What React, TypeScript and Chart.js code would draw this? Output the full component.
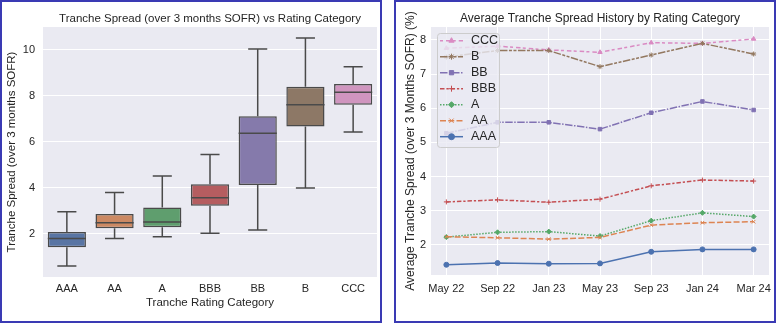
import React, { useEffect, useRef } from "react";
import { Chart, registerables } from "chart.js";
import { drawPoint } from "chart.js/helpers";

Chart.register(...registerables);

const FONT = "'Liberation Sans', Arial, Helvetica, sans-serif";
const TEXT = "#262626";
const PLOT_BG = "#EAEAF2";
const PANEL_BORDER = "#3a3ab4";
const BOX_LINE = "#4a4a4a";

// ---------- Box plot data ----------
const ratingCategories = ["AAA", "AA", "A", "BBB", "BB", "B", "CCC"];
const whiskerLow = [0.61, 1.8, 1.88, 2.03, 2.17, 4.0, 6.43];
const quartile1 = [1.42, 2.25, 2.29, 3.23, 4.13, 6.67, 7.62];
const medians = [1.8, 2.49, 2.52, 3.58, 6.38, 7.62, 8.16];
const quartile3 = [2.09, 2.87, 3.15, 4.16, 7.12, 8.4, 8.52];
const whiskerHigh = [2.97, 3.8, 4.52, 5.46, 10.04, 10.52, 9.27];
const boxColors = ["#5975a4", "#cc8963", "#5f9e6e", "#b55d60", "#857aab", "#8d7866", "#d095bf"];

// ---------- Line chart data ----------
const periods = ["May 22", "Sep 22", "Jan 23", "May 23", "Sep 23", "Jan 24", "Mar 24"];
const seriesAAA = [1.42, 1.47, 1.45, 1.46, 1.8, 1.87, 1.87];
const seriesAA = [2.24, 2.21, 2.17, 2.22, 2.58, 2.65, 2.68];
const seriesA = [2.23, 2.37, 2.39, 2.26, 2.71, 2.94, 2.83];
const seriesBBB = [3.26, 3.32, 3.25, 3.34, 3.73, 3.9, 3.87];
const seriesBB = [5.27, 5.59, 5.59, 5.39, 5.87, 6.2, 5.95];
const seriesB = [7.5, 7.69, 7.69, 7.22, 7.56, 7.9, 7.59];
const seriesCCC = [7.76, 7.82, 7.71, 7.64, 7.92, 7.9, 8.03];

const lineLabels = ["AAA", "AA", "A", "BBB", "BB", "B", "CCC"];
const lineSeries = [seriesAAA, seriesAA, seriesA, seriesBBB, seriesBB, seriesB, seriesCCC];
const lineColors = ["#4c72b0", "#dd8452", "#55a868", "#c44e52", "#8172b3", "#937860", "#da8bc3"];
const lineDashes = [
  [],
  [6, 2.25],
  [1.5, 1.5],
  [4.5, 1.9, 2.25, 1.9],
  [7.5, 1.5, 1.5, 1.5],
  [7.5, 1.5, 3, 1.5, 3, 1.5],
  [3, 3, 4.5, 2.25],
];
const lineMarkers = ["circle", "crossRot", "rectRot", "cross", "rect", "star", "triangle"];

const bgPlugin = {
  id: "plotBg",
  beforeDraw(chart: any) {
    const { ctx, chartArea } = chart;
    ctx.save();
    ctx.fillStyle = PLOT_BG;
    ctx.fillRect(chartArea.left, chartArea.top, chartArea.right - chartArea.left, chartArea.bottom - chartArea.top);
    ctx.restore();
  },
};

function makeTitlePlugin(text: string, size: number) {
  return {
    id: "plotTitle",
    afterDraw(chart: any) {
      const { ctx, chartArea } = chart;
      ctx.save();
      ctx.fillStyle = TEXT;
      ctx.font = `${size}px ${FONT}`;
      ctx.textAlign = "center";
      ctx.textBaseline = "middle";
      ctx.fillText(text, (chartArea.left + chartArea.right) / 2, chartArea.top - 8);
      ctx.restore();
    },
  };
}

const whiskerPlugin = {
  id: "whiskers",
  afterDatasetsDraw(chart: any) {
    const { ctx } = chart;
    const meta = chart.getDatasetMeta(0);
    const yScale = chart.scales.y;
    ctx.save();
    ctx.strokeStyle = BOX_LINE;
    ctx.lineWidth = 1.5;
    meta.data.forEach((bar: any, i: number) => {
      const x = bar.x;
      const w = bar.width;
      const yLow = yScale.getPixelForValue(whiskerLow[i]);
      const yQ1 = yScale.getPixelForValue(quartile1[i]);
      const yQ3 = yScale.getPixelForValue(quartile3[i]);
      const yHigh = yScale.getPixelForValue(whiskerHigh[i]);
      const yMed = yScale.getPixelForValue(medians[i]);
      ctx.beginPath();
      ctx.moveTo(x, yQ3);
      ctx.lineTo(x, yHigh);
      ctx.moveTo(x - w / 4, yHigh);
      ctx.lineTo(x + w / 4, yHigh);
      ctx.moveTo(x, yQ1);
      ctx.lineTo(x, yLow);
      ctx.moveTo(x - w / 4, yLow);
      ctx.lineTo(x + w / 4, yLow);
      ctx.moveTo(x - w / 2, yMed);
      ctx.lineTo(x + w / 2, yMed);
      ctx.stroke();
    });
    ctx.restore();
  },
};

const legendPlugin = {
  id: "insideLegend",
  afterDraw(chart: any) {
    const { ctx, chartArea } = chart;
    const x0 = chartArea.left + 6;
    const y0 = chartArea.top + 6;
    const w = 62;
    const h = 114;
    ctx.save();
    ctx.beginPath();
    if ((ctx as any).roundRect) (ctx as any).roundRect(x0 + 0.5, y0 + 0.5, w, h, 3);
    else ctx.rect(x0 + 0.5, y0 + 0.5, w, h);
    ctx.fillStyle = "rgba(234,234,242,0.8)";
    ctx.fill();
    ctx.strokeStyle = "#cccccc";
    ctx.lineWidth = 1;
    ctx.stroke();
    const ds = chart.data.datasets.slice().reverse();
    ds.forEach((d: any, k: number) => {
      const cy = y0 + 7.7 + k * 16;
      ctx.beginPath();
      ctx.setLineDash(d.borderDash || []);
      ctx.strokeStyle = d.borderColor;
      ctx.lineWidth = 1.5;
      ctx.moveTo(x0 + 3, cy);
      ctx.lineTo(x0 + 26, cy);
      ctx.stroke();
      ctx.setLineDash([]);
      ctx.fillStyle = d.borderColor;
      ctx.strokeStyle = d.borderColor;
      ctx.lineWidth = 1;
      drawPoint(ctx, { pointStyle: d.pointStyle, rotation: 0, radius: 3, borderWidth: 1 } as any, x0 + 14.5, cy);
      ctx.fillStyle = TEXT;
      ctx.font = `12.5px ${FONT}`;
      ctx.textAlign = "left";
      ctx.textBaseline = "middle";
      ctx.fillText(d.label, x0 + 34, cy);
    });
    ctx.restore();
  },
};

function BoxChart() {
  const ref = useRef<HTMLCanvasElement | null>(null);
  useEffect(() => {
    if (!ref.current) return;
    const chart = new Chart(ref.current, {
      type: "bar",
      data: {
        labels: ratingCategories,
        datasets: [
          {
            data: quartile1.map((v, i) => [v, quartile3[i]]) as any,
            backgroundColor: boxColors,
            borderColor: BOX_LINE,
            borderWidth: 1.5,
            borderSkipped: false,
            barPercentage: 0.8,
            categoryPercentage: 1,
          },
        ],
      },
      options: {
        responsive: false,
        animation: false,
        layout: { padding: { top: 25, right: 3, bottom: 0, left: 0 } },
        plugins: { legend: { display: false }, tooltip: { enabled: false }, title: { display: false } },
        scales: {
          x: {
            type: "category",
            offset: true,
            grid: { display: false, drawTicks: false },
            border: { display: false },
            ticks: { color: TEXT, font: { family: FONT, size: 11 }, padding: 5, maxRotation: 0 },
            title: {
              display: true,
              text: "Tranche Rating Category",
              color: TEXT,
              font: { family: FONT, size: 11.5 },
              padding: { top: 0, bottom: 11 },
            },
            afterFit(scale: any) {
              scale.height = 44;
              scale.paddingLeft = 0;
              scale.paddingRight = 0;
            },
          },
          y: {
            type: "linear",
            min: 0.13,
            max: 11.0,
            grid: { color: "#ffffff", lineWidth: 1, drawTicks: false },
            border: { display: false },
            ticks: {
              stepSize: 2,
              includeBounds: false,
              color: TEXT,
              font: { family: FONT, size: 11 },
              padding: 8,
            },
            title: {
              display: true,
              text: "Tranche Spread (over 3 months SOFR)",
              color: TEXT,
              font: { family: FONT, size: 11.5 },
              padding: { top: 3, bottom: 0 },
            },
            afterFit(scale: any) {
              scale.width = 41;
              scale.paddingTop = 0;
              scale.paddingBottom = 0;
            },
          },
        },
      },
      plugins: [bgPlugin, whiskerPlugin, makeTitlePlugin("Tranche Spread (over 3 months SOFR) vs Rating Category", 11.5)],
    } as any);
    return () => chart.destroy();
  }, []);
  return <canvas ref={ref} width={378} height={319} style={{ display: "block" }} />;
}

function LineChart() {
  const ref = useRef<HTMLCanvasElement | null>(null);
  useEffect(() => {
    if (!ref.current) return;
    const chart = new Chart(ref.current, {
      type: "line",
      data: {
        datasets: lineSeries.map((s, k) => ({
          label: lineLabels[k],
          data: s.map((v, i) => ({ x: i, y: v })),
          borderColor: lineColors[k],
          backgroundColor: lineColors[k],
          borderWidth: 1.5,
          borderDash: lineDashes[k],
          pointStyle: lineMarkers[k],
          pointRadius: 2.5,
          pointBorderWidth: 1,
          pointBorderColor: lineColors[k],
          pointBackgroundColor: lineColors[k],
          tension: 0,
          fill: false,
        })),
      },
      options: {
        responsive: false,
        animation: false,
        layout: { padding: { top: 25, right: 4, bottom: 0, left: 0 } },
        plugins: { legend: { display: false }, tooltip: { enabled: false }, title: { display: false } },
        scales: {
          x: {
            type: "linear",
            min: -0.3,
            max: 6.3,
            grid: { color: "#ffffff", lineWidth: 1, drawTicks: false },
            border: { display: false },
            ticks: {
              stepSize: 1,
              includeBounds: false,
              autoSkip: false,
              maxRotation: 0,
              color: TEXT,
              font: { family: FONT, size: 11 },
              padding: 7,
              callback: (v: any) => (Number.isInteger(v) && periods[v] !== undefined ? periods[v] : ""),
            },
            afterFit(scale: any) {
              scale.height = 46;
              scale.paddingLeft = 0;
              scale.paddingRight = 0;
            },
          },
          y: {
            type: "linear",
            min: 1.12,
            max: 8.38,
            grid: { color: "#ffffff", lineWidth: 1, drawTicks: false },
            border: { display: false },
            ticks: {
              stepSize: 1,
              includeBounds: false,
              color: TEXT,
              font: { family: FONT, size: 11 },
              padding: 5,
            },
            title: {
              display: true,
              text: "Average Tranche Spread (over 3 Months SOFR) (%)",
              color: TEXT,
              font: { family: FONT, size: 12 },
              padding: { top: 7, bottom: 0 },
            },
            afterFit(scale: any) {
              scale.width = 35;
              scale.paddingTop = 0;
              scale.paddingBottom = 0;
            },
          },
        },
      },
      plugins: [bgPlugin, legendPlugin, makeTitlePlugin("Average Tranche Spread History by Rating Category", 12)],
    } as any);
    return () => chart.destroy();
  }, []);
  return <canvas ref={ref} width={378} height={319} style={{ display: "block" }} />;
}

const panelStyle: React.CSSProperties = {
  position: "absolute",
  top: 0,
  width: 378,
  height: 319,
  border: `2px solid ${PANEL_BORDER}`,
  background: "#ffffff",
};

export default function App() {
  return (
    <div style={{ position: "absolute", left: 0, top: 0, width: 779, height: 327, background: "#ffffff", overflow: "hidden" }}>
      <div style={{ ...panelStyle, left: 0 }}>
        <BoxChart />
      </div>
      <div style={{ ...panelStyle, left: 394 }}>
        <LineChart />
      </div>
    </div>
  );
}
